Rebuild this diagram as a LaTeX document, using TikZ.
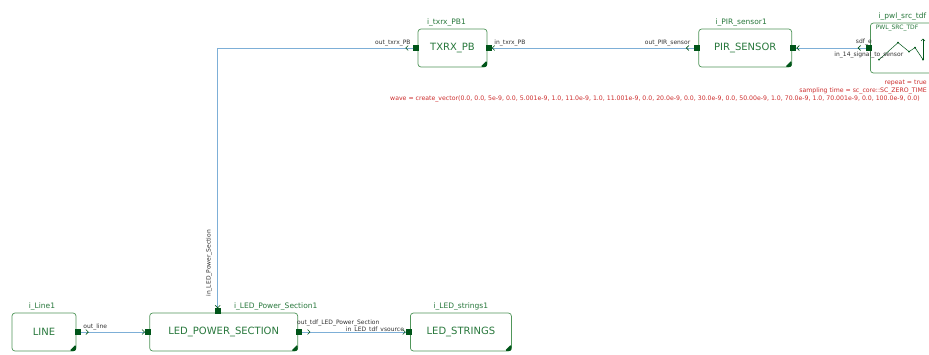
\documentclass[tikz,border=0pt]{standalone}
\usepackage{fontspec}
\setmainfont{DejaVu Sans}
\usetikzlibrary{positioning, arrows.meta, decorations.markings}

\definecolor{boxgreen}{RGB}{80,150,90}
\definecolor{txtgreen}{RGB}{40,120,60}
\definecolor{portgreen}{RGB}{0,85,25}
\definecolor{wireblue}{RGB}{125,175,215}
\definecolor{paramred}{RGB}{205,45,45}

\begin{document}
\begin{tikzpicture}[
        x=1pt, y=1pt,
        block/.style={draw=boxgreen, line width=0.7pt, rounded corners=3pt, fill=white, text=txtgreen, minimum height=38pt, inner sep=0pt, font=\fontsize{10}{12}\selectfont},
        port/.style={fill=portgreen, minimum size=6pt, inner sep=0pt},
        inst_label/.style={text=txtgreen, inner sep=1pt, font=\fontsize{7.5}{9}\selectfont},
        port_label/.style={text=black!80, inner sep=0.5pt, font=\fontsize{6}{7}\selectfont},
        param/.style={text=paramred, anchor=west, inner sep=0pt, font=\fontsize{6.2}{7}\selectfont},
        chev/.style={portgreen, line width=0.6pt},
        wire/.style={draw=wireblue, line width=0.8pt, postaction={decorate},
            decoration={markings,
                mark=at position 8pt with {\arrow[chev]{Straight Barb[length=2.5pt, width=5pt]}},
                mark=at position 1 with {\arrow[chev]{Straight Barb[length=2.5pt, width=5pt]}}}}
    ]
    \fill[white] (0,0) rectangle (929,354);
    \useasboundingbox (0,0) rectangle (929,354);

    % Baris atas
    \node[block, minimum width=69pt] (txrx) at (452.5,306) {TXRX\_PB};
    \node[block, minimum width=93pt, right=211pt of txrx] (pir) {PIR\_SENSOR};
    \node[block, minimum width=90pt, minimum height=50pt, right=78pt of pir] (pwl) {};
    \node[inst_label, above=1pt of txrx, xshift=-6pt] (lbl_txrx) {i\_txrx\_PB1};
    \node[inst_label, above=1pt of pir, xshift=-4pt] (lbl_pir) {i\_PIR\_sensor1};
    \node[inst_label, above=1pt of pwl, xshift=-13pt] (lbl_pwl) {i\_pwl\_src\_tdf};
    \node[port_label, below right=2pt and 5pt of pwl.north west, text=txtgreen] (pwl_title) {PWL\_SRC\_TDF};

    % Baris bawah
    \node[block, minimum width=64pt] (line) at (44,22) {LINE};
    \node[block, minimum width=148pt, right=73pt of line] (lps) {LED\_POWER\_SECTION};
    \node[block, minimum width=101pt, right=112pt of lps] (strings) {LED\_STRINGS};
    \node[inst_label, above=1pt of line, xshift=-2pt] (lbl_line) {i\_Line1};
    \node[inst_label, above=1pt of lps, xshift=52pt] (lbl_lps) {i\_LED\_Power\_Section1};
    \node[inst_label, above=1pt of strings] (lbl_strings) {i\_LED\_strings1};

    % sudut blok
    \foreach \b in {txrx, pir, pwl, line, lps, strings}
        \fill[portgreen, rounded corners=1.5pt] (\b.south east) +(-7,0.4) -- +(-0.4,0.4) -- +(-0.4,7) -- cycle;

    % grafik pwl
    \begin{scope}[shift={(pwl.north west)}]
        \draw[portgreen, line width=0.5pt] (9,-37) -- (28,-20) -- (39,-29) -- (45,-25) -- (53,-37);
        \draw[portgreen, line width=0.5pt, -{Straight Barb[length=2pt]}] (53,-37) -- (53,-16);
        \foreach \p in {(9,-37), (28,-20), (39,-29), (45,-25), (53,-37)}
            \fill[portgreen] \p circle (1pt);
    \end{scope}

    % Port
    \node[port, left=-2pt of txrx.west] (txrx_out) {};
    \node[port, right=-2pt of txrx.east] (txrx_in) {};
    \node[port, left=-2pt of pir.west] (pir_out) {};
    \node[port, right=-2pt of pir.east] (pir_in) {};
    \node[port, left=-2pt of pwl.west] (pwl_out) {};
    \node[port, right=-2pt of line.east] (line_out) {};
    \node[port, left=-2pt of lps.west] (lps_in) {};
    \node[port, above=-2pt of lps.north, xshift=-6pt] (lps_top) {};
    \node[port, right=-2pt of lps.east] (lps_out) {};
    \node[port, left=-2pt of strings.west] (str_in) {};

    % Label port
    \node[port_label, above left=-2pt and 2pt of txrx_out] (lbl_txrx_out) {out\_txrx\_PB};
    \node[port_label, above right=-2pt and 2pt of txrx_in] (lbl_txrx_in) {in\_txrx\_PB};
    \node[port_label, above left=-2pt and 3pt of pir_out] (lbl_pir_out) {out\_PIR\_sensor};
    \node[port_label, above=-1pt of pwl_out, xshift=-5pt] (lbl_pwl_out) {sdf\_e};
    \node[port_label, below=0pt of pwl_out] (lbl_pir_in) {in\_14\_signal\_to\_sensor};
    \node[port_label, above right=2pt and -6pt of lps_out] (lbl_lps_out) {out\_tdf\_LED\_Power\_Section};
    \node[port_label, above left=-4.5pt and 1pt of str_in] (lbl_str_in) {in\_LED\_tdf\_vsource};
    \node[port_label, above right=-2pt and 2pt of line_out] (lbl_line_out) {out\_line};
    \node[port_label, rotate=90, anchor=south west] (lbl_lps_top) at ([xshift=-5pt, yshift=11pt]lps_top.north) {in\_LED\_Power\_Section};

    % Kabel
    \draw[wire] (line_out) -- (lps_in);
    \draw[wire] (lps_out) -- (str_in);
    \draw[wire] (txrx_out) -| (lps_top);
    \draw[wire] (pir_out) -- (txrx_in);
    \draw[wire] (pwl_out) -- (pir_in);

    % Parameter pwl
    \node[param, anchor=east] (param_repeat) at (927,271) {repeat = true};
    \node[param, anchor=east] (param_time) at (927,263) {sampling time = sc\_core::SC\_ZERO\_TIME};
    \node[param] (param_wave) at (390,255) {wave = create\_vector(0.0, 0.0, 5e-9, 0.0, 5.001e-9, 1.0, 11.0e-9, 1.0, 11.001e-9, 0.0, 20.0e-9, 0.0, 30.0e-9, 0.0, 50.00e-9, 1.0, 70.0e-9, 1.0, 70.001e-9, 0.0, 100.0e-9, 0.0)};

\end{tikzpicture}
\end{document}
